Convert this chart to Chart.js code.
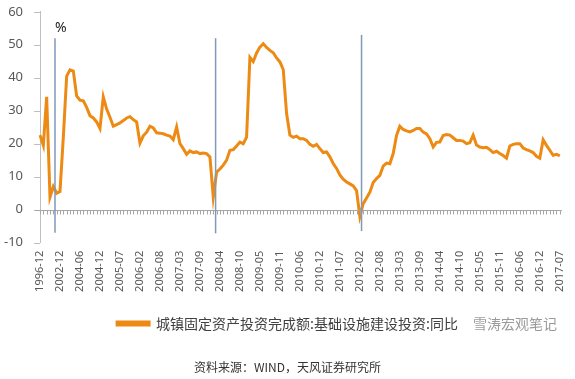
<!DOCTYPE html>
<html>
  <head>
    <meta charset="UTF-8">
    <style>
      html, body { margin: 0; padding: 0; background: #fff; }
      #wrap { width: 575px; height: 379px; }
    </style>
  </head>
  <body>
    <div id="wrap"><canvas id="infra"></canvas></div>

    <script src="https://cdn.jsdelivr.net/npm/chart.js@4.4.0/dist/chart.umd.min.js"></script>

    <script type="text/javascript">

      const SERIES_NAME = '城镇固定资产投资完成额:基础设施建设投资:同比';
      const SOURCE_TEXT = '资料来源：WIND，天风证券研究所';
      const WATERMARK = '雪涛宏观笔记';

      // early points are yearly / sparse, then monthly without January
      const earlyCats = ['1996-12', '1997-12', '1998-12', '1999-12', '2000-12', '2001-12',
        '2002-12', '2003-12', '2004-02', '2004-03', '2004-04', '2004-05'];

      const tickLabels = ['1996-12', '2002-12', '2004-06', '2004-12', '2005-07', '2006-02',
        '2006-08', '2007-03', '2007-09', '2008-04', '2008-10', '2009-05', '2009-11',
        '2010-06', '2010-12', '2011-07', '2012-02', '2012-08', '2013-03', '2013-09',
        '2014-04', '2014-10', '2015-05', '2015-11', '2016-06', '2016-12', '2017-07'];

      // 同比, %
      const infraYoY = [
        22.6, 19.5, 34.2, 3.8, 7.0, 5.0, 5.5, 22.0, 40.5, 42.4, 42.0, 34.5,
        33.2, 33.0, 31.0, 28.5, 27.8, 26.6, 24.6, 34.2, 30.5, 28.0, 25.3, 25.8,
        26.3, 27.0, 27.8, 28.2, 27.3, 26.6, 20.2, 22.4, 23.5, 25.3, 24.8, 23.3,
        23.2, 23.0, 22.6, 22.3, 21.2, 25.1, 20.0, 18.5, 16.8, 17.8, 17.3, 17.5,
        17.0, 17.2, 17.0, 16.0, 3.8, 11.4, 12.3, 13.5, 15.0, 18.0, 18.2, 19.3,
        20.5, 20.0, 22.0, 46.2, 44.9, 47.5, 49.3, 50.3, 49.2, 48.3, 47.6, 46.0,
        44.8, 42.5, 29.2, 22.6, 21.9, 22.3, 21.5, 21.5, 21.0, 19.8, 19.2, 19.8,
        18.5, 17.3, 17.5, 16.0, 14.0, 12.5, 10.5, 9.2, 8.4, 7.8, 7.2, 5.8,
        -2.1, 1.8, 3.5, 5.3, 8.2, 9.4, 10.4, 13.2, 14.1, 13.9, 17.0, 22.5,
        25.3, 24.3, 23.9, 23.6, 24.0, 24.6, 24.6, 23.5, 23.0, 21.5, 19.0, 20.4,
        20.5, 22.5, 22.8, 22.6, 21.8, 21.0, 21.0, 20.8, 20.0, 20.3, 22.6, 19.6,
        19.0, 18.8, 18.9, 18.2, 17.3, 17.7, 17.0, 16.4, 15.6, 19.3, 19.8, 20.0,
        20.0, 18.7, 18.2, 17.8, 17.3, 16.2, 15.6, 21.2, 19.5, 18.0, 16.5, 16.8,
        16.3
      ];

      // vertical marker lines: category position, top and bottom value
      const markerAt = [4.5, 52.7, 96.5];
      const markerTop = [52, 52, 53];
      const markerBottom = [-7, -7.2, -6.5];

      var categories = earlyCats.slice();
      for (var y = 2004; y <= 2017; y++) {
        for (var m = 2; m <= 12; m++) {
          if (y === 2004 && m < 6) continue;
          if (y === 2017 && m > 7) break;
          categories.push(y + '-' + (m < 10 ? '0' + m : m));
        }
      }

      const ORANGE = '#ED8A14';
      const GREY_TXT = '#595959';

      const extras = {
        id: 'extras',
        afterDatasetsDraw(chart) {
          const ctx = chart.ctx;
          const xs = chart.scales.x;
          const ys = chart.scales.y;
          const area = chart.chartArea;

          ctx.save();
          ctx.lineWidth = 1;

          // y tick marks (short, outside)
          ctx.strokeStyle = '#bfbfbf';
          ctx.beginPath();
          ys.ticks.forEach(function (t) {
            var py = Math.round(ys.getPixelForValue(t.value)) + 0.5;
            ctx.moveTo(area.left - 6, py);
            ctx.lineTo(area.left, py);
          });
          ctx.stroke();

          // zero line with a tick on every category
          const y0 = Math.round(ys.getPixelForValue(0)) + 0.5;
          ctx.strokeStyle = '#a6a6a6';
          ctx.beginPath();
          ctx.moveTo(area.left - 5, y0);
          ctx.lineTo(area.right + 2, y0);
          for (var i = 0; i < categories.length; i++) {
            var px = Math.round(xs.getPixelForValue(i)) + 0.5;
            ctx.moveTo(px, y0);
            ctx.lineTo(px, y0 + 4);
          }
          ctx.stroke();

          // marker lines
          ctx.strokeStyle = '#7f99bb';
          ctx.lineWidth = 1.5;
          markerAt.forEach(function (pos, k) {
            var px = xs.getPixelForValue(pos);
            ctx.beginPath();
            ctx.moveTo(px, ys.getPixelForValue(markerTop[k]));
            ctx.lineTo(px, ys.getPixelForValue(markerBottom[k]));
            ctx.stroke();
          });

          // unit label
          ctx.fillStyle = '#222';
          ctx.font = '14px "Noto Sans"';
          ctx.textAlign = 'left';
          ctx.textBaseline = 'middle';
          ctx.fillText('%', xs.getPixelForValue(markerAt[0]), ys.getPixelForValue(55));

          // watermark after legend text
          const lg = chart.legend;
          if (lg && lg.legendHitBoxes.length) {
            const hb = lg.legendHitBoxes[0];
            ctx.fillStyle = 'rgba(120,120,120,0.75)';
            ctx.font = '14px "Noto Sans CJK SC"';
            ctx.textBaseline = 'middle';
            ctx.fillText(WATERMARK, 473, hb.top + hb.height / 2);
          }
          ctx.restore();
        }
      };

      new Chart(document.getElementById('infra'), {
        type: 'line',
        data: {
          labels: categories,
          datasets: [{
            label: SERIES_NAME,
            data: infraYoY,
            borderColor: ORANGE,
            backgroundColor: ORANGE,
            borderWidth: 3,
            pointRadius: 0,
            tension: 0
          }]
        },
        options: {
          responsive: true,
          maintainAspectRatio: false,
          animation: false,
          layout: { padding: { left: 0, right: 0, top: 1, bottom: 0 } },
          plugins: {
            tooltip: { enabled: false },
            legend: {
              position: 'bottom',
              labels: {
                boxWidth: 32,
                boxHeight: 3,
                color: '#404040',
                padding: 12,
                font: { size: 14, family: '"Noto Sans CJK SC"' }
              }
            },
            title: {
              display: true,
              position: 'bottom',
              text: SOURCE_TEXT,
              color: '#333',
              font: { size: 12, weight: 'normal', family: '"Noto Sans CJK SC"' },
              padding: { top: 20, bottom: 4 }
            }
          },
          scales: {
            x: {
              offset: false,
              border: { display: false },
              grid: { display: false, drawTicks: true, tickLength: 6, tickColor: 'transparent' },
              afterFit: function (scale) { scale.height = 62; },
              ticks: {
                autoSkip: false,
                minRotation: 90,
                maxRotation: 90,
                padding: 2,
                color: GREY_TXT,
                font: { size: 11, family: '"Noto Sans"' },
                callback: function (v, i) {
                  var lab = categories[i];
                  return tickLabels.indexOf(lab) >= 0 ? lab : null;
                }
              }
            },
            y: {
              min: -10,
              max: 60,
              afterFit: function (scale) { scale.width = 40; },
              border: { display: true, color: '#bfbfbf' },
              grid: { display: false, drawTicks: true, tickLength: 13, tickColor: 'transparent' },
              ticks: {
                stepSize: 10,
                padding: 4,
                color: GREY_TXT,
                font: { size: 13, family: '"Noto Sans"' }
              }
            }
          }
        },
        plugins: [extras]
      });

    </script>

  </body>
</html>
